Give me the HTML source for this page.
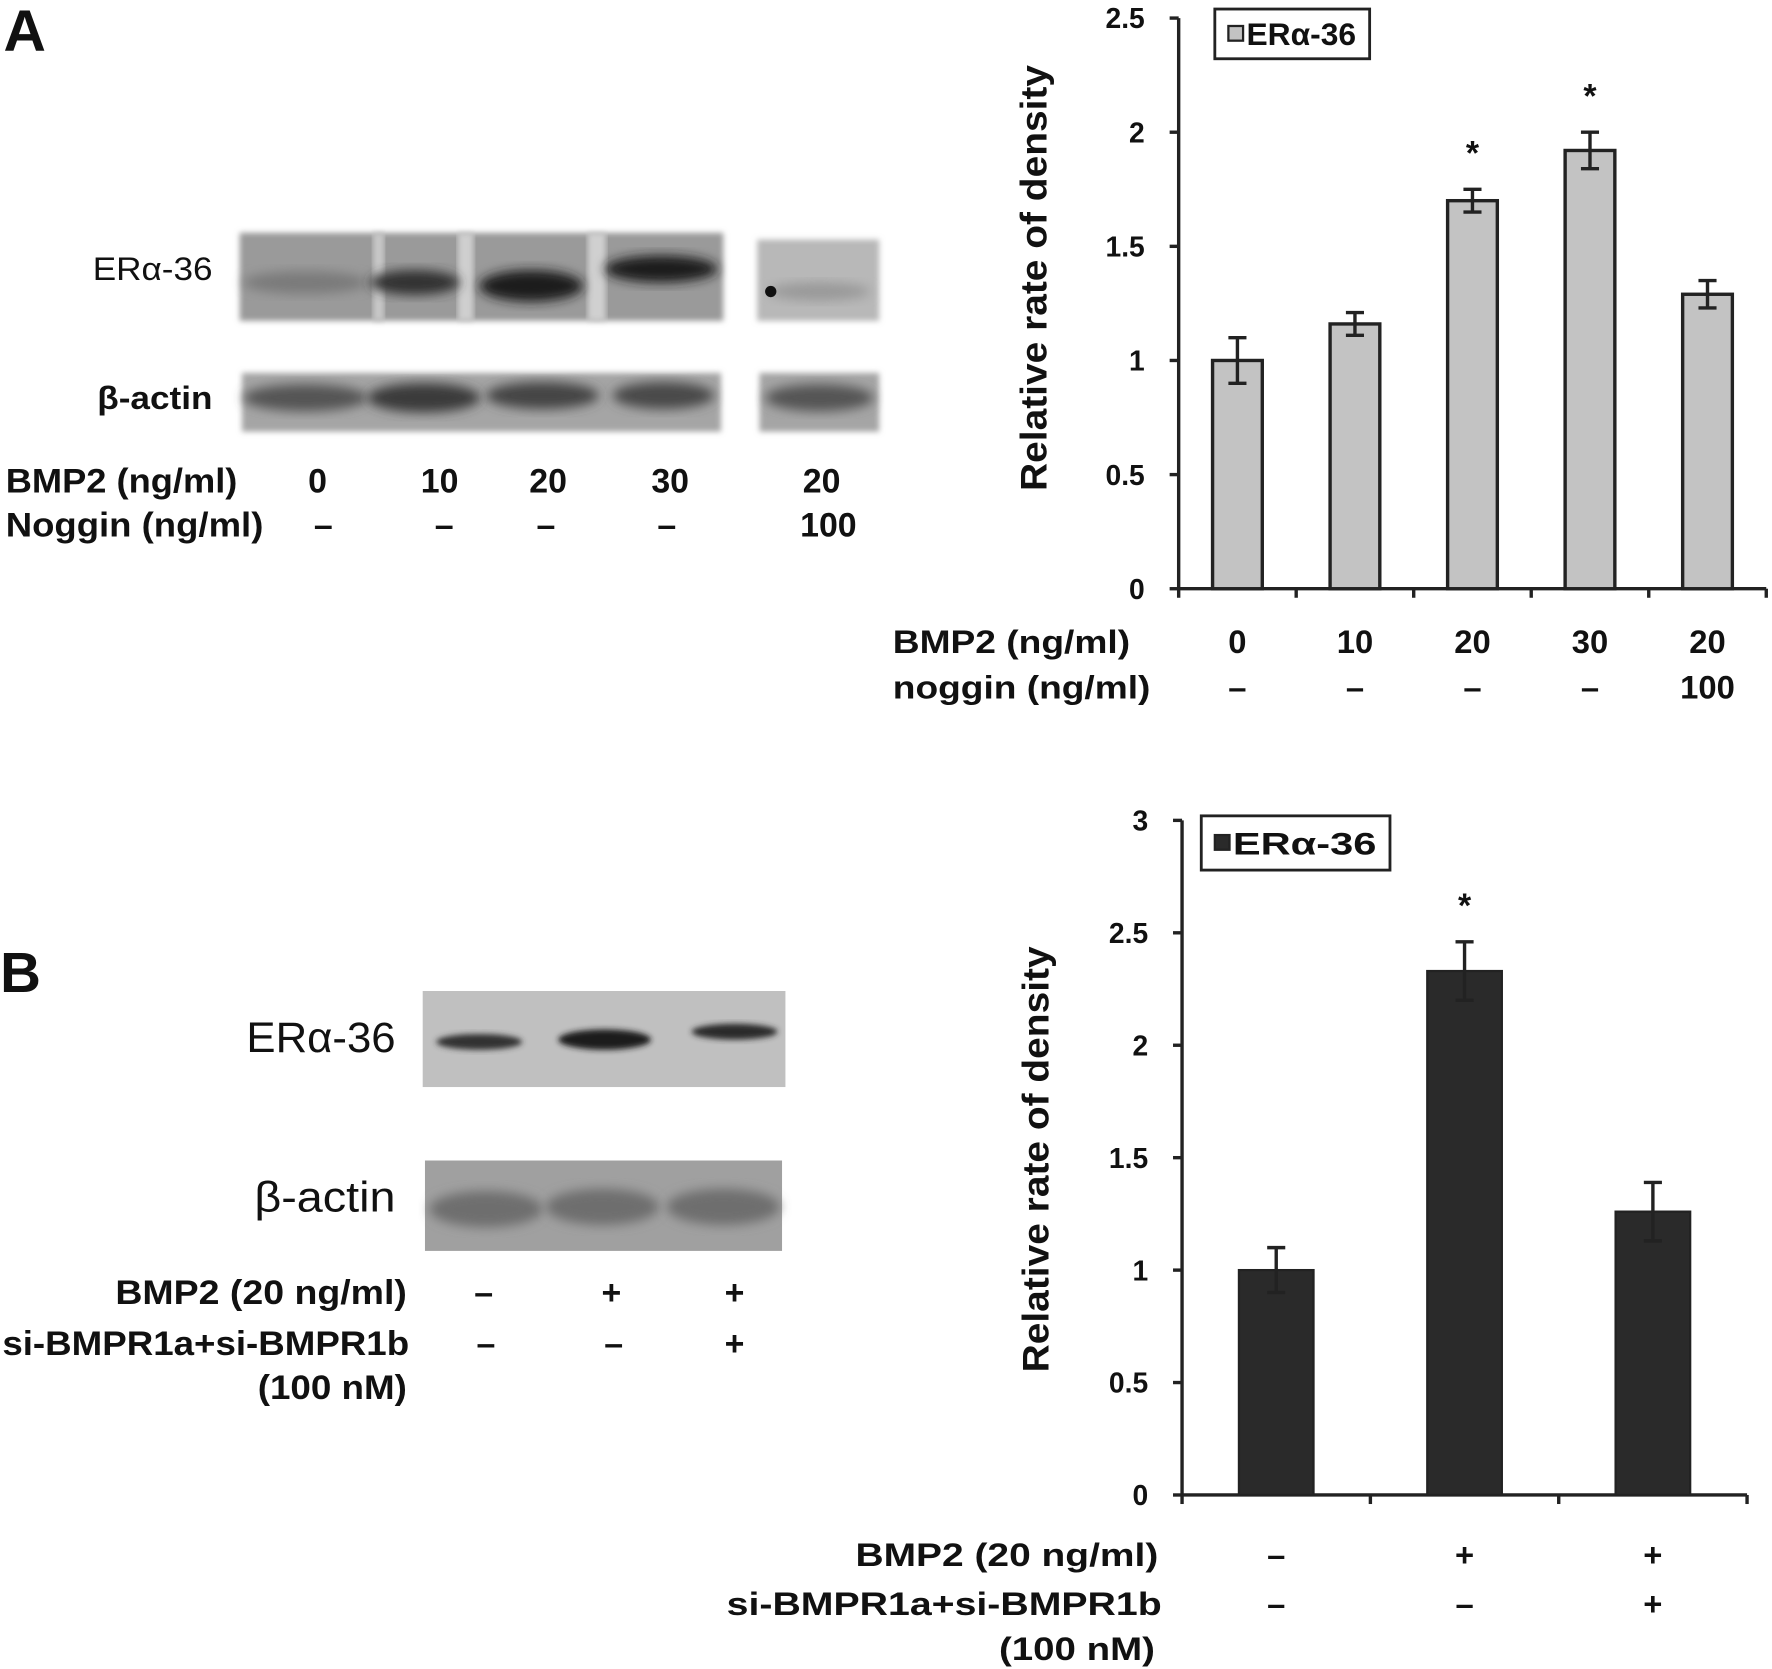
<!DOCTYPE html>
<html><head><meta charset="utf-8"><style>
html,body{margin:0;padding:0;background:#fff;}
svg{display:block;}
text{font-family:"Liberation Sans",sans-serif;font-weight:bold;fill:#111;}
</style></head><body>
<svg id="fig" width="1772" height="1669" viewBox="0 0 1568 1477" xmlns="http://www.w3.org/2000/svg">
<defs>
<filter id="blur" x="-10%" y="-30%" width="120%" height="160%"><feGaussianBlur stdDeviation="5"/></filter>
<filter id="blur2" x="-10%" y="-30%" width="120%" height="160%"><feGaussianBlur stdDeviation="2.5"/></filter>
</defs>
<!-- Panel A blots -->
<text x="3" y="45" font-size="52" font-family="Liberation Sans">A</text>
<text x="188" y="248" font-size="29" text-anchor="end" textLength="106" lengthAdjust="spacingAndGlyphs" style="font-weight:normal">ERα-36</text>
<text x="188" y="362" font-size="29" text-anchor="end" textLength="102" lengthAdjust="spacingAndGlyphs">β-actin</text>
<g>
<rect x="212" y="206" width="428" height="78" fill="#9a9a9a" filter="url(#blur2)"/>
<rect x="330" y="206" width="10" height="78" fill="#c8c8c8" filter="url(#blur2)"/>
<rect x="405" y="206" width="14" height="78" fill="#cfcfcf" filter="url(#blur2)"/>
<rect x="520" y="206" width="16" height="78" fill="#d0d0d0" filter="url(#blur2)"/>
<ellipse cx="270" cy="250" rx="55" ry="10" fill="#7a7a7a" filter="url(#blur)"/>
<ellipse cx="367" cy="250" rx="40" ry="11" fill="#333" filter="url(#blur)"/>
<ellipse cx="470" cy="253" rx="46" ry="14" fill="#1a1a1a" filter="url(#blur)"/>
<ellipse cx="585" cy="238" rx="50" ry="12" fill="#1a1a1a" filter="url(#blur)"/>
<rect x="670" y="212" width="108" height="72" fill="#b8b8b8" filter="url(#blur2)"/>
<ellipse cx="725" cy="258" rx="45" ry="8" fill="#999" filter="url(#blur)"/>
<circle cx="682" cy="258" r="5" fill="#111"/>
</g>
<g>
<rect x="214" y="330" width="424" height="52" fill="#a5a5a5" filter="url(#blur2)"/>
<rect x="672" y="330" width="106" height="52" fill="#a5a5a5" filter="url(#blur2)"/>
<ellipse cx="270" cy="352" rx="55" ry="12" fill="#555" filter="url(#blur)"/>
<ellipse cx="375" cy="352" rx="50" ry="13" fill="#3a3a3a" filter="url(#blur)"/>
<ellipse cx="480" cy="350" rx="50" ry="12" fill="#444" filter="url(#blur)"/>
<ellipse cx="587" cy="350" rx="45" ry="12" fill="#4a4a4a" filter="url(#blur)"/>
<ellipse cx="725" cy="352" rx="48" ry="12" fill="#555" filter="url(#blur)"/>
</g>
<text x="5" y="436" font-size="30" textLength="205" lengthAdjust="spacingAndGlyphs">BMP2 (ng/ml)</text>
<text x="5" y="475" font-size="30" textLength="228" lengthAdjust="spacingAndGlyphs">Noggin (ng/ml)</text>
<g font-size="30" text-anchor="middle">
<text x="281" y="436">0</text><text x="389" y="436">10</text><text x="485" y="436">20</text><text x="593" y="436">30</text><text x="727" y="436">20</text>
<text x="286" y="475">–</text><text x="393" y="475">–</text><text x="483" y="475">–</text><text x="590" y="475">–</text><text x="733" y="475">100</text>
</g>

<!-- Panel B blots -->
<text x="0" y="878" font-size="50">B</text>
<text x="350" y="931" font-size="38" text-anchor="end" textLength="132" lengthAdjust="spacingAndGlyphs" style="font-weight:normal">ERα-36</text>
<text x="350" y="1072" font-size="38" text-anchor="end" textLength="125" lengthAdjust="spacingAndGlyphs" style="font-weight:normal">β-actin</text>
<g>
<rect x="374" y="877" width="321" height="85" fill="#c0c0c0"/>
<ellipse cx="424" cy="922" rx="38" ry="7" fill="#333" filter="url(#blur2)"/>
<ellipse cx="535" cy="920" rx="41" ry="9" fill="#1e1e1e" filter="url(#blur2)"/>
<ellipse cx="650" cy="913" rx="38" ry="7" fill="#2a2a2a" filter="url(#blur2)"/>
</g>
<g>
<rect x="376" y="1027" width="316" height="80" fill="#a0a0a0"/>
<ellipse cx="430" cy="1070" rx="50" ry="16" fill="#6e6e6e" filter="url(#blur)"/>
<ellipse cx="533" cy="1068" rx="50" ry="16" fill="#6e6e6e" filter="url(#blur)"/>
<ellipse cx="640" cy="1068" rx="50" ry="16" fill="#6e6e6e" filter="url(#blur)"/>
</g>
<g font-size="30" text-anchor="end">
<text x="360" y="1154" textLength="258" lengthAdjust="spacingAndGlyphs">BMP2 (20 ng/ml)</text>
<text x="362" y="1199" textLength="360" lengthAdjust="spacingAndGlyphs">si-BMPR1a+si-BMPR1b</text>
<text x="360" y="1238" textLength="132" lengthAdjust="spacingAndGlyphs">(100 nM)</text>
</g>
<g font-size="30" text-anchor="middle">
<text x="428" y="1154">–</text><text x="541" y="1154">+</text><text x="650" y="1154">+</text>
<text x="430" y="1199">–</text><text x="543" y="1199">–</text><text x="650" y="1199">+</text>
</g>
<g id="chartA"></g>
<g id="chartB"></g>
</svg>
<script>
const catsA = ["0","10","20","30","20"];
const nogA = ["–","–","–","–","100"];
const valsA = [1.0, 1.16, 1.70, 1.92, 1.29];
const errA = [0.1, 0.05, 0.05, 0.08, 0.06];
const sigA = [false, false, true, true, false];
const ticksA = [0, 0.5, 1, 1.5, 2, 2.5];

const bmpB = ["–","+","+"];
const siB = ["–","–","+"];
const valsB = [1.0, 2.33, 1.26];
const errB = [0.1, 0.13, 0.13];
const sigB = [false, true, false];
const ticksB = [0, 0.5, 1, 1.5, 2, 2.5, 3];

const NS = "http://www.w3.org/2000/svg";
function mk(parent, tag, attrs, txt){
  const e = document.createElementNS(NS, tag);
  for (const k in attrs) e.setAttribute(k, attrs[k]);
  if (txt !== undefined) e.textContent = txt;
  parent.appendChild(e);
  return e;
}

function drawChart(g, cfg){
  const yS = v => cfg.y0 - (v - 0) / cfg.ymax * (cfg.y0 - cfg.ytop);
  const n = cfg.vals.length;
  const bw = (cfg.xend - cfg.x0) / n;
  const xC = i => cfg.x0 + bw * (i + 0.5);
  const ax = mk(g, "line", {x1:cfg.x0, y1:yS(cfg.ymax), x2:cfg.x0, y2:cfg.y0, stroke:"#222", "stroke-width":3});
  
  
  const xa = mk(g, "line", {x1:cfg.x0, y1:cfg.y0, x2:cfg.xend, y2:cfg.y0, stroke:"#222", "stroke-width":3});
  
  
  cfg.ticks.forEach(t => {
    const tk = mk(g, "line", {x1:cfg.x0-8, y1:yS(t), x2:cfg.x0, y2:yS(t), stroke:"#222", "stroke-width":3});
    
    
    const tl = mk(g, "text", {x:cfg.x0-30, y:yS(t)+9, "font-size":25, "text-anchor":"end"}, String(t));
    
    
  });
  for (let i = 0; i <= n; i++) {
    const x = cfg.x0 + bw * i;
    const tk = mk(g, "line", {x1:x, y1:cfg.y0, x2:x, y2:cfg.y0+8, stroke:"#222", "stroke-width":3});
    
    
  }
  cfg.vals.forEach((v, i) => {
    const cx = xC(i);
    const r = mk(g, "rect", {x:cx-cfg.barW/2, y:yS(v), width:cfg.barW, height:cfg.y0-yS(v), fill:cfg.fill, stroke:"#222", "stroke-width":cfg.stroke});
    
    
    const e = cfg.err[i];
    const eg = mk(g, "path", {d:`M${cx},${yS(v+e)}V${yS(v-e)}M${cx-8},${yS(v+e)}H${cx+8}M${cx-8},${yS(v-e)}H${cx+8}`, stroke:"#222", "stroke-width":3, fill:"none"});
    
    
    if (cfg.sig[i]) {
      const s = mk(g, "text", {x:cx, y:yS(v+e)-22, "font-size":30, "text-anchor":"middle"}, "*");
      
      
    }
  });
  cfg.rows.forEach((row, ri) => {
    row.forEach((lab, i) => {
      const t = mk(g, "text", {x:xC(i), y:cfg.rowY[ri], "font-size":29, "text-anchor":"middle"}, lab);
      
      
    });
  });
  const yl = mk(g, "text", {x:0, y:0, "font-size":33, "text-anchor":"middle", textLength:377, lengthAdjust:"spacingAndGlyphs", transform:`translate(${cfg.ylx},${cfg.yly}) rotate(-90)`}, "Relative rate of density");
  
  
  const lg = mk(g, "g", {});
  
  
  mk(lg, "rect", {x:cfg.lg[0], y:cfg.lg[1], width:cfg.lg[2], height:cfg.lg[3], fill:"#fff", stroke:"#222", "stroke-width":2.5});
  mk(lg, "rect", {x:cfg.lg[0]+12, y:cfg.lg[1]+cfg.lg[3]/2-7, width:13, height:13, fill:cfg.fill, stroke:"#222", "stroke-width":2});
  mk(lg, "text", {x:cfg.lg[0]+28, y:cfg.lg[1]+cfg.lg[3]/2+10, "font-size":28, textLength:cfg.lg[2]-40, lengthAdjust:"spacingAndGlyphs"}, "ERα-36");
  cfg.rowLabels.forEach((l) => {
    const t = mk(g, "text", {x:l[1], y:l[2], "font-size":29, "text-anchor":l[3], textLength:l[4], lengthAdjust:"spacingAndGlyphs"}, l[0]);
    
    
  });
}

drawChart(document.getElementById("chartA"), {
  x0:1043, xend:1563, y0:521, ytop:16, ymax:2.5, barW:44, fill:"#c3c3c3", stroke:3,
  vals:valsA, err:errA, sig:sigA, ticks:ticksA,
  rows:[catsA, nogA], rowY:[578, 618],
  ylx:926, yly:246, lg:[1075, 8, 137, 44],
  rowLabels:[["BMP2  (ng/ml)", 790, 578, "start", 210], ["noggin (ng/ml)", 790, 618, "start", 228]]
});
drawChart(document.getElementById("chartB"), {
  x0:1046, xend:1546, y0:1323, ytop:726, ymax:3, barW:66, fill:"#2a2a2a", stroke:2,
  vals:valsB, err:errB, sig:sigB, ticks:ticksB,
  rows:[bmpB, siB], rowY:[1386, 1429],
  ylx:928, yly:1026, lg:[1063, 722, 167, 48],
  rowLabels:[["BMP2 (20 ng/ml)", 1025, 1386, "end", 268], ["si-BMPR1a+si-BMPR1b", 1028, 1429, "end", 385], ["(100 nM)", 1022, 1469, "end", 138]]
});
</script>
</body></html>
